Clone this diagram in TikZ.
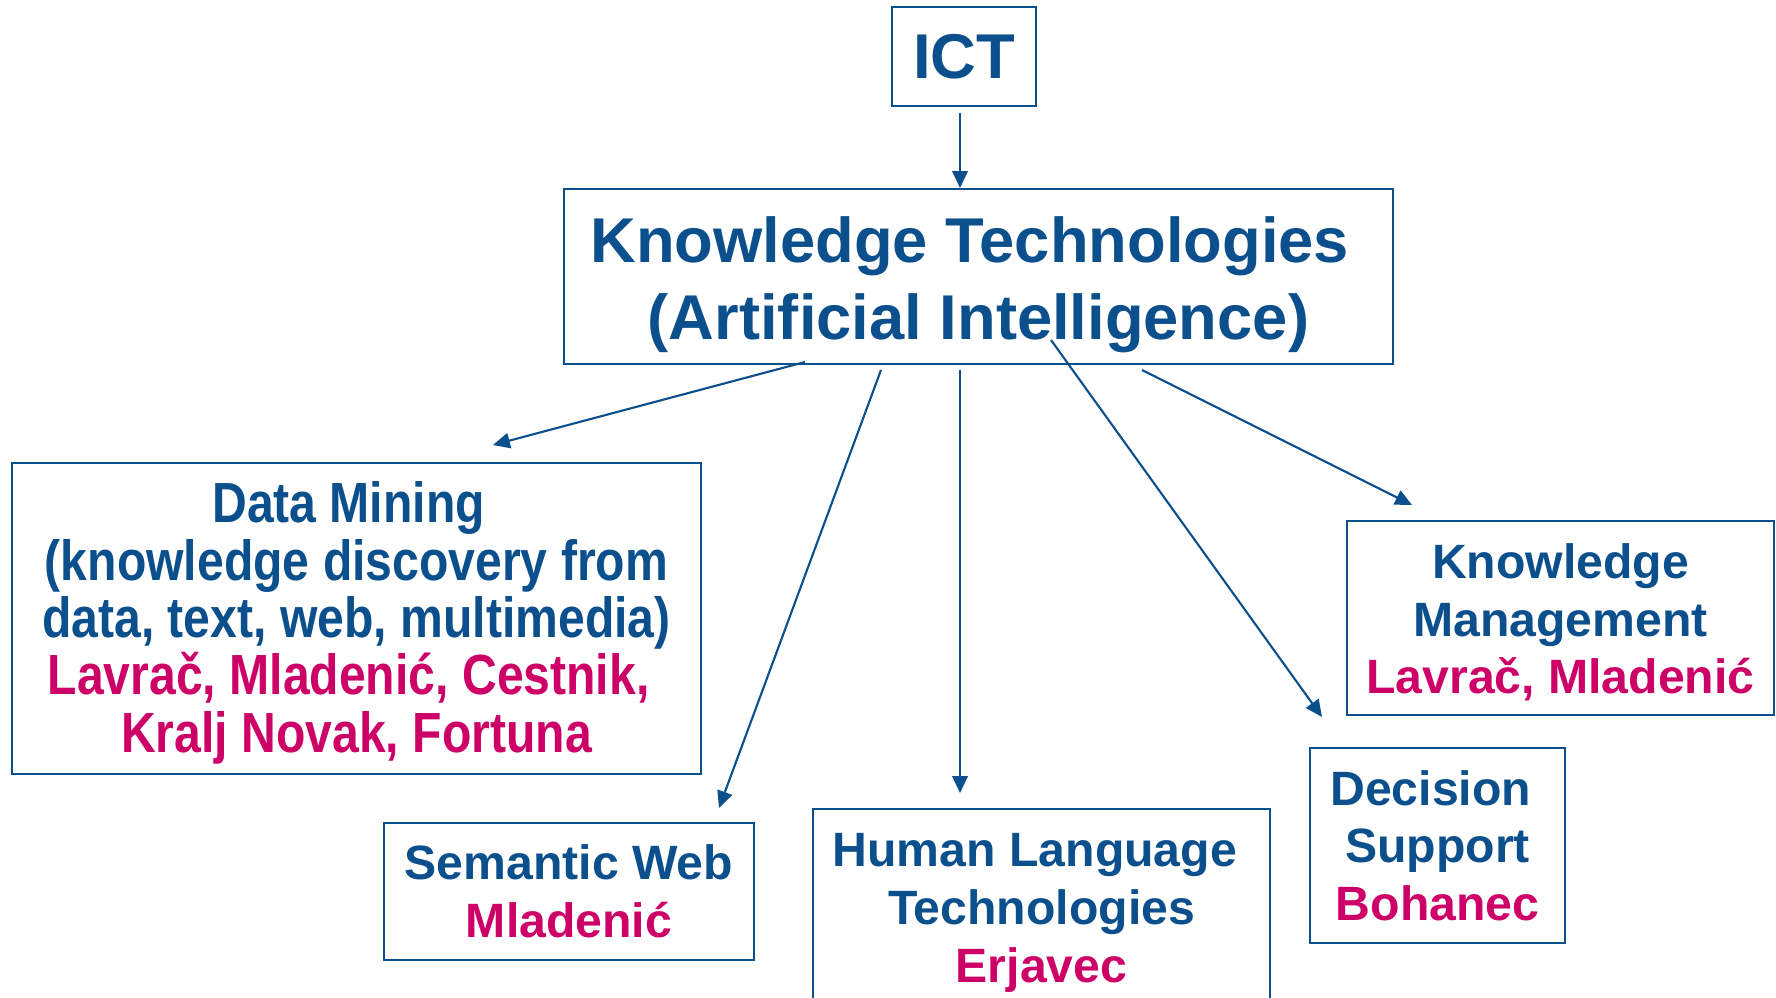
\documentclass[tikz,border=0pt]{standalone}
\usepackage{fontspec}
\setmainfont{Liberation Sans}
\newfontfamily\narrowfont[FakeStretch=0.85]{Liberation Sans}
\usepackage{tikz}
\usetikzlibrary{arrows.meta}
\definecolor{ktblue}{RGB}{11,79,140}
\definecolor{ktpink}{RGB}{204,0,102}
\newcommand{\who}[1]{\textcolor{ktpink}{#1}}
\newcommand{\tsp}{\hspace*{0.278em}}

\begin{document}
\begin{tikzpicture}
		[x=0.01cm,y=-0.01cm]
			\tikzset{box/.style={draw=ktblue, line width=0.65pt, text=ktblue,
		inner sep=0pt, align=center, font=\bfseries\fontsize{13.7}{16.4}\selectfont},
		arr/.style={draw=ktblue, line width=0.6pt, -{Triangle[length=4.8pt,width=4.4pt]}}}
		\clip (0,0) rectangle (1776,998);
		%-----top
		 \node[box, minimum width=1.44cm, minimum height=0.99cm, font=\bfseries\fontsize{18}{21.9}\selectfont]  (ICT) at (964,56.5) {ICT};
		 \node[box, minimum width=8.29cm, minimum height=1.75cm, text height=39.9pt, font=\bfseries\fontsize{18}{21.9}\selectfont]  (KT) at (978.5,276.5) {Knowledge Technologies\tsp\\(Artificial Intelligence)};
		%-----areas
		 \node[box, minimum width=6.89cm, minimum height=3.11cm, text height=79.3pt, font=\narrowfont\bfseries\fontsize{16.1}{16.3}\selectfont]  (DM) at (356.5,618.5) {Data Mining\tsp\\(knowledge discovery from\\data, text, web, multimedia)\\\who{Lavrač, Mladenić, Cestnik,\tsp}\\\who{Kralj Novak, Fortuna}};
		 \node[box, minimum width=3.70cm, minimum height=1.37cm]  (SW) at (569,891.5) {Semantic Web\\\who{Mladenić}};
		 \node[box, minimum width=4.57cm, minimum height=2.01cm, text height=44.2pt]  (HLT) at (1041.5,909.5) {Human Language\tsp\\Technologies\\\who{Erjavec}};
		 \node[box, minimum width=2.55cm, minimum height=1.95cm]  (DS) at (1437.5,845.5) {Decision\tsp\\Support\\\who{Bohanec}};
		 \node[box, minimum width=4.27cm, minimum height=1.94cm, text height=45.2pt]  (KM) at (1560.5,618) {Knowledge\\Management\\\who{Lavrač, Mladenić}};
		%-----arrow ends
		 \coordinate (ICTo) at (960,113);
		 \coordinate (KTi) at (960,188);
		 \coordinate (DMo) at (805,362);
		 \coordinate (DMi) at (493,445);
		 \coordinate (SWo) at (881,370);
		 \coordinate (SWi) at (719,808);
		 \coordinate (HLTo) at (960,370);
		 \coordinate (HLTi) at (960,793);
		 \coordinate (DSo) at (1051,340);
		 \coordinate (DSi) at (1322,717);
		 \coordinate (KMo) at (1142,370);
		 \coordinate (KMi) at (1412,505);
		 
		 \foreach \from/\to in {ICTo/KTi,DMo/DMi,SWo/SWi,HLTo/HLTi,DSo/DSi,KMo/KMi}
		 \draw[arr] (\from) -- (\to);
		 
		\end{tikzpicture}
\end{document}
